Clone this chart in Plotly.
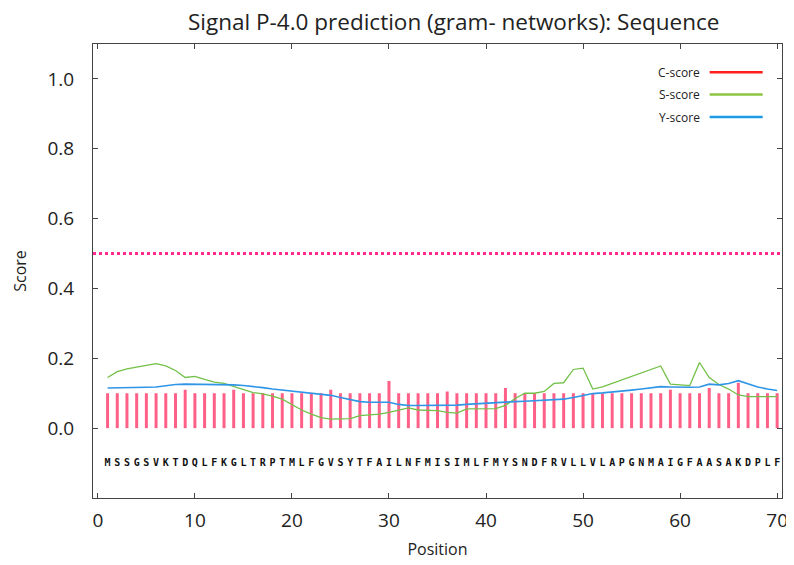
import plotly.graph_objects as go

# ---- data ----
positions = list(range(1, 71))
sequence = list("MSSGSVKTDQLFKGLTRPTMLFGVSYTFAILNFMISIMLFMYSNDFRVLLVLAPGNMAIGFAASAKDPLF")

c_score = [0.100, 0.100, 0.100, 0.100, 0.100, 0.100, 0.100, 0.100, 0.110, 0.100,
           0.100, 0.100, 0.100, 0.110, 0.100, 0.100, 0.100, 0.100, 0.100, 0.100,
           0.100, 0.100, 0.100, 0.110, 0.100, 0.100, 0.100, 0.100, 0.100, 0.135,
           0.100, 0.100, 0.100, 0.100, 0.100, 0.105, 0.100, 0.100, 0.100, 0.100,
           0.100, 0.115, 0.100, 0.100, 0.100, 0.100, 0.100, 0.100, 0.100, 0.100,
           0.100, 0.100, 0.100, 0.100, 0.100, 0.100, 0.100, 0.100, 0.110, 0.100,
           0.100, 0.100, 0.115, 0.100, 0.100, 0.130, 0.100, 0.100, 0.100, 0.100]

s_score = [0.145, 0.162, 0.170, 0.175, 0.180, 0.185, 0.178, 0.165, 0.145, 0.148,
           0.140, 0.132, 0.128, 0.120, 0.110, 0.102, 0.098, 0.092, 0.083, 0.068,
           0.052, 0.040, 0.030, 0.026, 0.026, 0.027, 0.036, 0.038, 0.040, 0.045,
           0.052, 0.058, 0.052, 0.050, 0.050, 0.045, 0.043, 0.055, 0.055, 0.055,
           0.056, 0.065, 0.085, 0.100, 0.100, 0.105, 0.128, 0.130, 0.168, 0.172,
           0.112, 0.118, 0.128, 0.138, 0.148, 0.158, 0.168, 0.178, 0.126, 0.124,
           0.122, 0.188, 0.145, 0.125, 0.112, 0.095, 0.090, 0.090, 0.090, 0.090]

y_score = [0.115, 0.115, 0.116, 0.116, 0.117, 0.118, 0.122, 0.125, 0.126, 0.126,
           0.126, 0.125, 0.125, 0.124, 0.122, 0.120, 0.116, 0.112, 0.109, 0.107,
           0.104, 0.101, 0.098, 0.094, 0.088, 0.082, 0.076, 0.074, 0.074, 0.074,
           0.068, 0.065, 0.065, 0.065, 0.065, 0.065, 0.066, 0.068, 0.070, 0.072,
           0.074, 0.075, 0.076, 0.077, 0.078, 0.079, 0.081, 0.083, 0.088, 0.093,
           0.099, 0.101, 0.103, 0.106, 0.109, 0.112, 0.115, 0.119, 0.118, 0.117,
           0.117, 0.118, 0.126, 0.124, 0.128, 0.136, 0.126, 0.118, 0.112, 0.108]

threshold = 0.5
seq_y = -0.1
x_ticks = [0, 10, 20, 30, 40, 50, 60, 70]
y_ticks = [0.0, 0.2, 0.4, 0.6, 0.8, 1.0]
title_text = "Signal P-4.0 prediction (gram- networks): Sequence"

FONT = "Open Sans"

fig = go.Figure()

# C-score impulses
cx, cy = [], []
for p, v in zip(positions, c_score):
    cx += [p, p, None]
    cy += [0, v, None]
fig.add_trace(go.Scatter(x=cx, y=cy, mode="lines",
                         line=dict(color="#ff6088", width=3),
                         showlegend=False, hoverinfo="skip"))

# S-score
fig.add_trace(go.Scatter(x=positions, y=s_score, mode="lines",
                         line=dict(color="#72c048", width=1.3),
                         showlegend=False))
# Y-score
fig.add_trace(go.Scatter(x=positions, y=y_score, mode="lines",
                         line=dict(color="#2f95e6", width=1.6),
                         showlegend=False))

# threshold
fig.add_trace(go.Scatter(x=[-0.5, 70.5], y=[threshold, threshold], mode="lines",
                         line=dict(color="#ff2a8c", width=3, dash="dot"),
                         showlegend=False, hoverinfo="skip"))

# sequence letters
fig.add_trace(go.Scatter(x=positions, y=[seq_y] * len(positions), mode="text",
                         text=sequence,
                         textfont=dict(family="DejaVu Sans Mono", size=10, color="#111",
                                       weight="bold"),
                         showlegend=False, hoverinfo="skip"))

# custom legend (text left of line)
legend_items = [("C-score", "#ff1e1e"), ("S-score", "#8cc640"), ("Y-score", "#1e9ae8")]
leg_y = [0.938, 0.889, 0.839]
for (name, col), yy in zip(legend_items, leg_y):
    fig.add_annotation(x=0.884, y=yy, xref="paper", yref="paper", text=name,
                       showarrow=False, xanchor="right", yanchor="middle",
                       font=dict(family=FONT, size=12, color="#222"))
    fig.add_shape(type="line", xref="paper", yref="paper",
                  x0=0.895, x1=0.972, y0=yy, y1=yy,
                  line=dict(color=col, width=2.5))

# title as annotation
fig.add_annotation(x=0.5225, y=1.05, xref="paper", yref="paper", text=title_text,
                   showarrow=False, xanchor="center", yanchor="middle",
                   font=dict(family=FONT, size=22.5, color="#222"))

axis_common = dict(showgrid=False, zeroline=False, showline=True, linecolor="#444",
                   linewidth=1, mirror="ticks", ticks="inside", ticklen=5,
                   tickcolor="#444", automargin=False)

fig.update_xaxes(range=[-0.5, 70.5], tickvals=x_ticks,
                 tickfont=dict(family=FONT, size=19, color="#222"),
                 title=dict(text="Position", font=dict(family=FONT, size=16, color="#222"),
                            standoff=12),
                 ticklabelstandoff=5, **axis_common)
fig.update_yaxes(range=[-0.2, 1.1], tickvals=y_ticks, tickformat=".1f",
                 tickfont=dict(family=FONT, size=19, color="#222"),
                 title=dict(text="Score", font=dict(family=FONT, size=16, color="#222"),
                            standoff=16),
                 ticklabelstandoff=14, **axis_common)

fig.update_layout(
    width=786, height=557,
    margin=dict(l=85, r=12, t=36, b=67),
    paper_bgcolor="white", plot_bgcolor="white",
)

fig.write_html("out.html")
